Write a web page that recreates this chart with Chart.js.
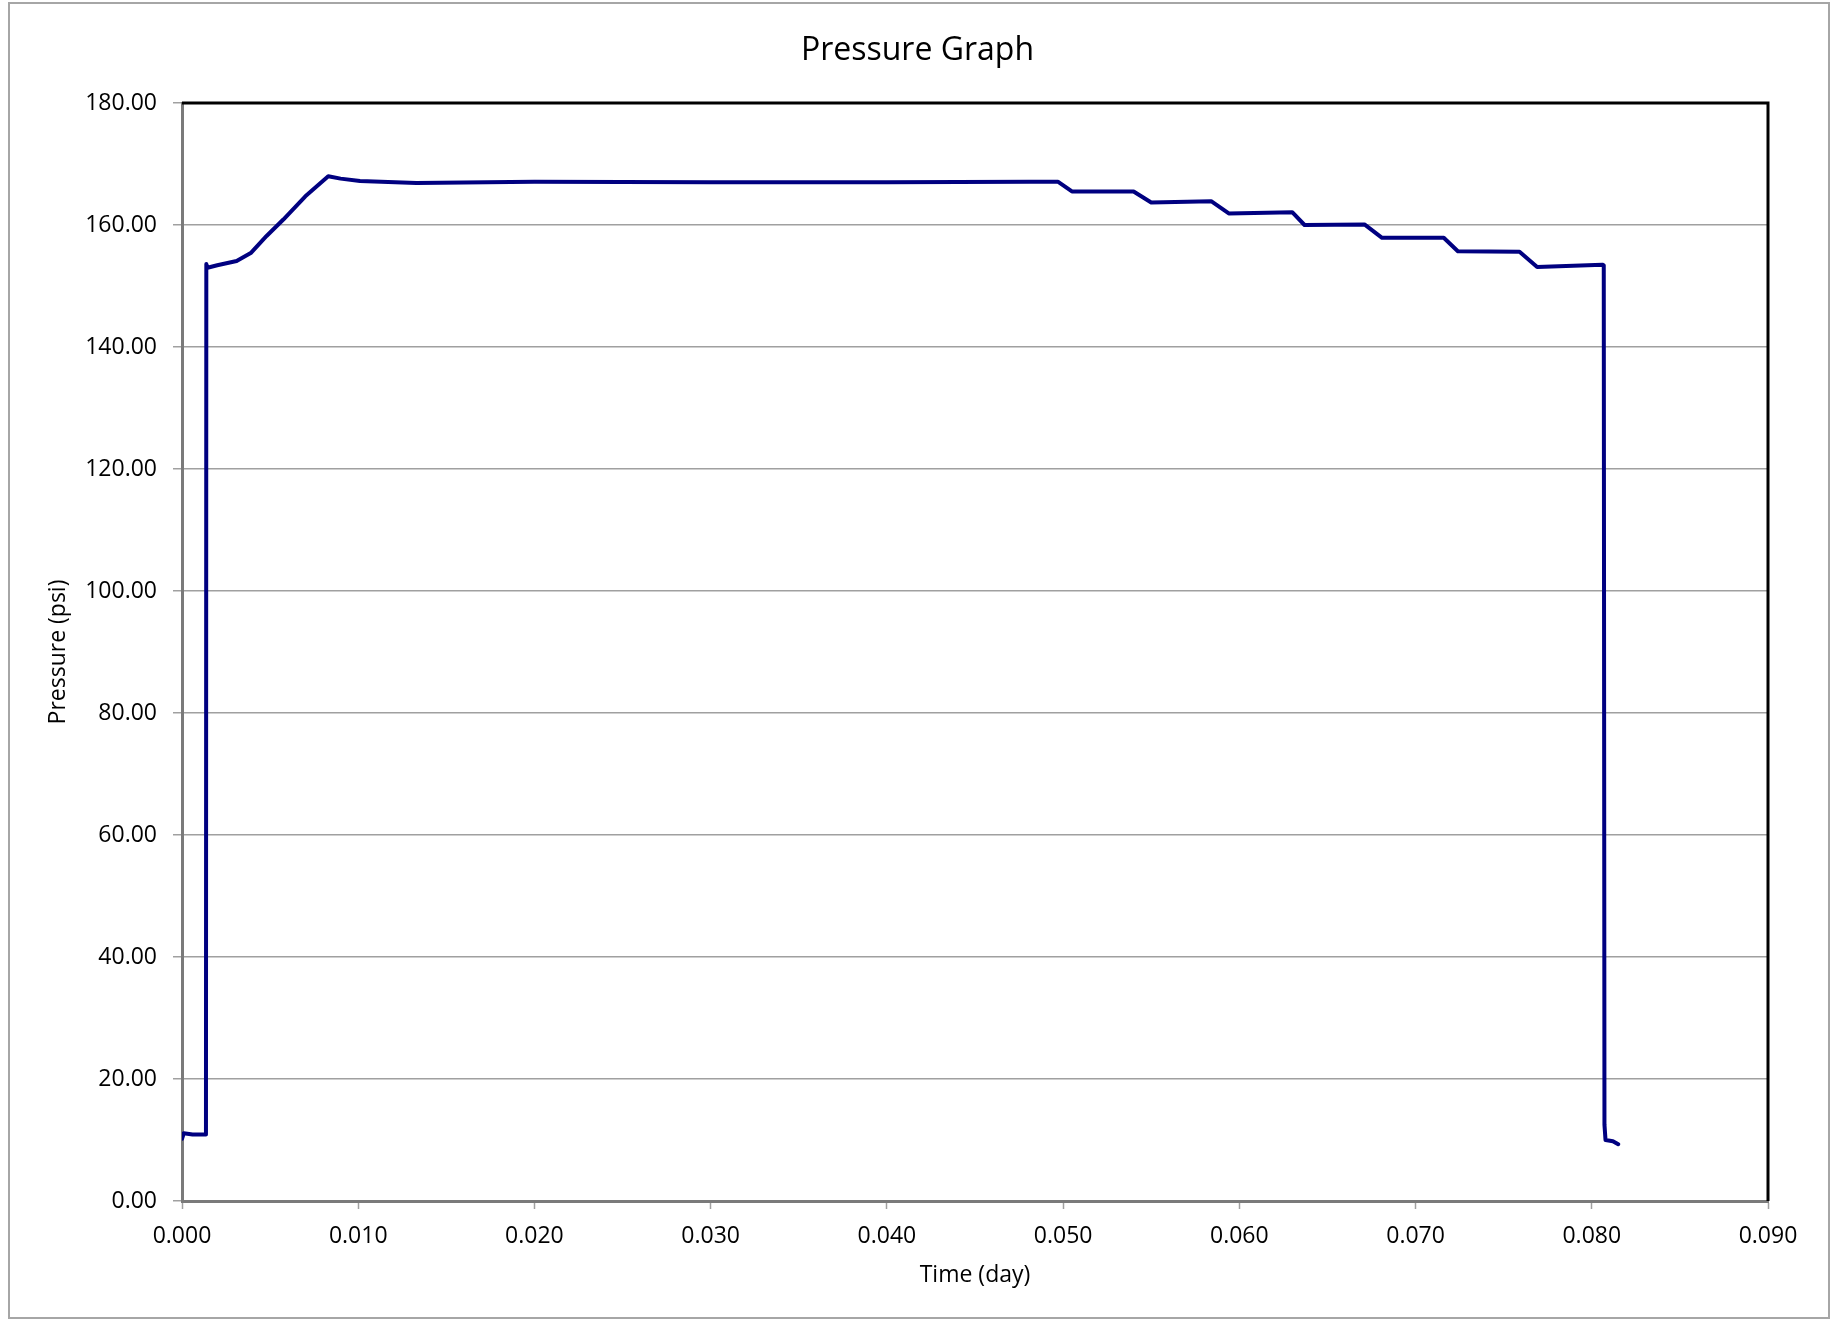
<!DOCTYPE html>
<html>
<head>
<meta charset="utf-8">
<title>Pressure Graph</title>
<script src="https://cdn.jsdelivr.net/npm/chart.js@4.4.1/dist/chart.umd.min.js"></script>
<style>
  html, body { margin: 0; padding: 0; background: #ffffff; }
  #wrap { width: 1835px; height: 1320px; position: relative; }
  canvas { display: block; }
</style>
</head>
<body>
<div id="wrap"><canvas id="c" width="1835" height="1320"></canvas></div>
<script>
// ---- data ----
const chartTitle = "Pressure Graph";
const xTitle = "Time (day)";
const yTitle = "Pressure (psi)";

const timeDay = [
  0.0000, 0.0001, 0.0006, 0.0013, 0.00136,
  0.00138, 0.00145, 0.0020, 0.0031, 0.0039,
  0.0048, 0.00575, 0.0070, 0.0083, 0.0090,
  0.0101, 0.0133, 0.0200, 0.0300, 0.0400,
  0.0481, 0.0497, 0.0505, 0.0540, 0.0550,
  0.0584, 0.0594, 0.0630, 0.0637, 0.0671,
  0.0681, 0.0716, 0.0724, 0.0759, 0.0769,
  0.0806, 0.08068, 0.08072, 0.08078, 0.0812,
  0.0815
];
const pressurePsi = [
  10.2, 11.1, 10.9, 10.9, 10.9,
  153.6, 153.0, 153.4, 154.1, 155.4,
  158.2, 160.9, 164.7, 168.0, 167.6,
  167.2, 166.9, 167.1, 167.0, 167.0,
  167.1, 167.1, 165.5, 165.5, 163.7,
  163.9, 161.9, 162.1, 160.0, 160.1,
  157.9, 157.9, 155.7, 155.6, 153.1,
  153.5, 153.4, 12.5, 10.0, 9.8,
  9.3
];

const yTickMin = 0, yTickMax = 180, yTickStep = 20;
const xTickMin = 0, xTickMax = 0.09, xTickStep = 0.01;

// ---- chart ----
const points = timeDay.map((t, i) => ({ x: t, y: pressurePsi[i] }));
const FONT = "'Open Sans', 'DejaVu Sans', sans-serif";

const framePlugin = {
  id: 'frame',
  beforeDraw(chart) {
    const ctx = chart.ctx;
    ctx.save();
    ctx.fillStyle = '#ffffff';
    ctx.fillRect(0, 0, chart.width, chart.height);
    ctx.strokeStyle = '#a6a6a6';
    ctx.lineWidth = 2;
    ctx.strokeRect(9, 3, 1820, 1315);
    ctx.restore();
  },
  afterDatasetsDraw(chart) {
    const { ctx, chartArea: a } = chart;
    ctx.save();
    ctx.strokeStyle = '#000000';
    ctx.lineWidth = 3;
    ctx.beginPath();
    ctx.moveTo(a.left, a.top);
    ctx.lineTo(a.right, a.top);
    ctx.lineTo(a.right, a.bottom);
    ctx.stroke();
    ctx.restore();
  }
};

new Chart(document.getElementById('c'), {
  type: 'scatter',
  data: {
    datasets: [{
      label: 'Pressure',
      data: points,
      showLine: true,
      borderColor: '#000080',
      backgroundColor: '#000080',
      borderWidth: 4,
      pointRadius: 0,
      pointHoverRadius: 0,
      tension: 0,
      borderJoinStyle: 'round',
      borderCapStyle: 'round'
    }]
  },
  options: {
    responsive: false,
    animation: false,
    devicePixelRatio: 1,
    layout: { padding: { left: 0, right: 0, top: 0, bottom: 0 } },
    plugins: {
      legend: { display: false },
      tooltip: { enabled: false },
      title: {
        display: true,
        text: chartTitle,
        color: '#000000',
        font: { family: FONT, size: 32, weight: 'normal', lineHeight: 1.2 },
        padding: { top: 32, bottom: 32.6 }
      }
    },
    scales: {
      x: {
        type: 'linear',
        min: xTickMin,
        max: xTickMax,
        afterFit(s) { s.height = 119; },
        title: {
          display: true,
          text: xTitle,
          color: '#000000',
          font: { family: FONT, size: 23, lineHeight: 1.2 },
          padding: { top: 0, bottom: 31 }
        },
        ticks: {
          stepSize: xTickStep,
          autoSkip: false,
          maxRotation: 0,
          color: '#000000',
          font: { family: FONT, size: 23, lineHeight: 1.2 },
          padding: 14,
          callback: v => Number(v).toFixed(3)
        },
        grid: {
          drawOnChartArea: false,
          drawTicks: true,
          tickLength: 8,
          tickColor: '#a0a0a0',
          tickWidth: 1.5
        },
        border: { display: true, color: '#7a7a7a', width: 3 }
      },
      y: {
        type: 'linear',
        min: yTickMin,
        max: yTickMax,
        afterFit(s) { s.width = 182; },
        title: {
          display: true,
          text: yTitle,
          color: '#000000',
          font: { family: FONT, size: 23, lineHeight: 1.2 },
          padding: { top: 44.7, bottom: 0 }
        },
        ticks: {
          stepSize: yTickStep,
          autoSkip: false,
          color: '#000000',
          font: { family: FONT, size: 23, lineHeight: 1.2 },
          padding: 16,
          callback: v => Number(v).toFixed(2)
        },
        grid: {
          drawOnChartArea: true,
          color: '#a0a0a0',
          lineWidth: 1.5,
          drawTicks: true,
          tickLength: 9,
          tickColor: '#a0a0a0',
          tickWidth: 1.5
        },
        border: { display: true, color: '#7a7a7a', width: 3 }
      },
      spacer: {
        type: 'linear',
        position: 'right',
        display: true,
        min: yTickMin,
        max: yTickMax,
        afterFit(s) { s.width = 67; },
        ticks: { display: false },
        grid: { display: false, drawTicks: false },
        border: { display: false },
        title: { display: false }
      }
    }
  },
  plugins: [framePlugin]
});
</script>
</body>
</html>
